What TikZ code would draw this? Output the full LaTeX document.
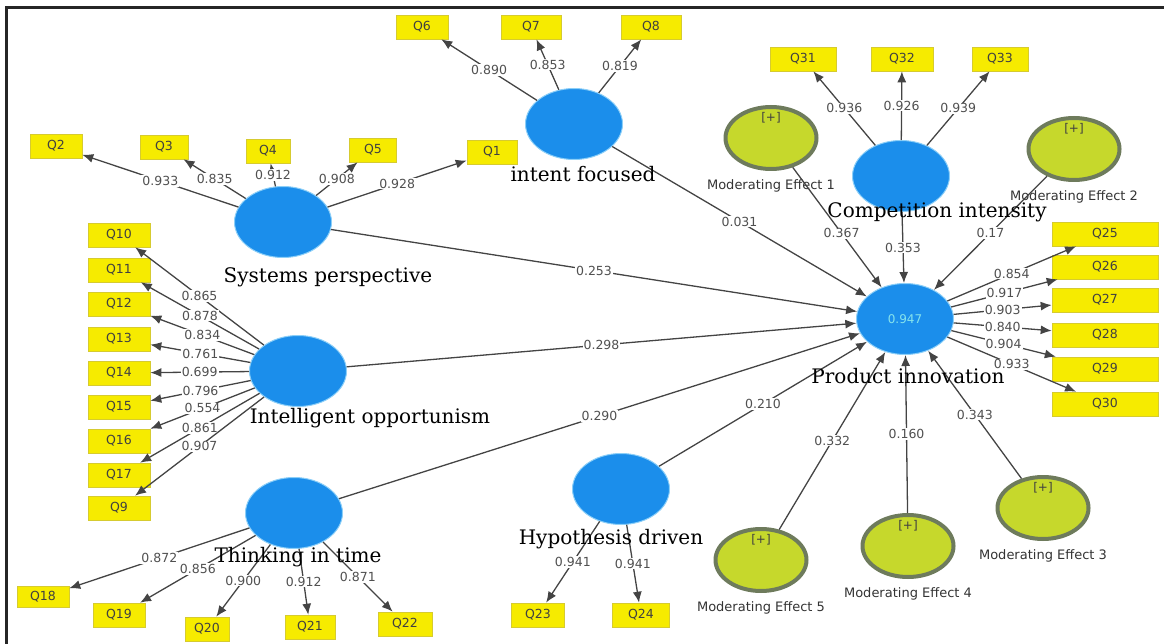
\documentclass[tikz,border=0pt]{standalone}
\usepackage{xcolor}
\usepackage{fontspec}
\usepackage{tikz}
\usetikzlibrary{shapes.geometric, arrows.meta}
\newfontfamily\pathfont{DejaVu Sans}
\newfontfamily\lvfont{DejaVu Serif}
\definecolor{lvblue}{HTML}{1B8EEB}
\definecolor{lvedge}{HTML}{8CCFF8}
\definecolor{modfill}{HTML}{C6D82C}
\definecolor{modedge}{HTML}{6E7B5C}
\definecolor{itemyellow}{HTML}{F6EB00}
\definecolor{itemedge}{HTML}{D6CB30}
\definecolor{linegray}{HTML}{444444}
\definecolor{coefgray}{HTML}{505050}
\definecolor{pitext}{HTML}{86E3EC}

\begin{document}
\begin{tikzpicture}[
    x=1pt, y=-1pt,
    latent/.style={ellipse, fill=lvblue, draw=lvedge, line width=1pt, minimum width=97pt, minimum height=71pt, inner sep=0pt},
    moderator/.style={ellipse, fill=modfill, draw=modedge, line width=4pt, minimum width=91pt, minimum height=62pt, inner sep=0pt,
        label={[plusmark, label distance=-18pt]90:{[+]}}},
    plusmark/.style={inner sep=0pt, font=\pathfont\fontsize{12}{14}\selectfont, text=black!75},
    modname/.style={label distance=5pt, font=\pathfont\fontsize{13}{15}\selectfont, text=black!80},
    lvname/.style={inner sep=0pt, font=\lvfont\fontsize{20}{22}\selectfont, text=black},
    item/.style={rectangle, fill=itemyellow, draw=itemedge, line width=0.6pt, minimum width=52pt, minimum height=24pt, inner sep=1pt,
        font=\pathfont\fontsize{12.5}{14}\selectfont, text=black!75},
    coef/.style={fill=white, inner sep=1pt, font=\pathfont\fontsize{12.5}{14}\selectfont, text=coefgray},
    arrow/.style={->, >={Latex[length=11pt, width=9pt]}, line width=1.3pt, draw=linegray}
]
    \useasboundingbox (0,0) rectangle (1164,644);
    \draw[line width=3pt, black!85] (6,644) -- (6,8) -- (1164,8);

    % Constructs
    \node[latent] (sp) at (283,222) {};
    \node[latent] (io) at (298,371) {};
    \node[latent] (tt) at (294,513) {};
    \node[latent] (intent) at (574,124) {};
    \node[latent] (ci) at (901,176) {};
    \node[latent, text=pitext, font=\pathfont\fontsize{12}{14}\selectfont] (pi) at (905,319) {0.947};
    \node[latent] (hd) at (621,489) {};

    % Moderating effects
    \node[moderator, label={[modname]below:Moderating Effect 1}] (me1) at (771,138) {};
    \node[moderator, label={[modname]below:Moderating Effect 2}] (me2) at (1074,149) {};
    \node[moderator, label={[modname]below:Moderating Effect 3}] (me3) at (1043,508) {};
    \node[moderator, label={[modname]below:Moderating Effect 4}] (me4) at (908,546) {};
    \node[moderator, label={[modname]below:Moderating Effect 5}] (me5) at (761,560) {};

    % Indicators
    \node[item] (q2) at (56,146) {Q2};
    \node[item, minimum width=48pt] (q3) at (164,147) {Q3};
    \node[item, minimum width=44pt] (q4) at (268,151) {Q4};
    \node[item, minimum width=47pt] (q5) at (373,150) {Q5};
    \node[item, minimum width=50pt] (q1) at (492,152) {Q1};
    \node[item] (q6) at (422,27) {Q6};
    \node[item, minimum width=60pt] (q7) at (531,27) {Q7};
    \node[item, minimum width=60pt] (q8) at (651,27) {Q8};
    \node[item, minimum width=66pt] (q31) at (803,59) {Q31};
    \node[item, minimum width=62pt] (q32) at (902,59) {Q32};
    \node[item, minimum width=56pt] (q33) at (1000,59) {Q33};
    \node[item, minimum width=62pt] (q10) at (119,235) {Q10};
    \node[item, minimum width=62pt] (q11) at (119,270) {Q11};
    \node[item, minimum width=62pt] (q12) at (119,304) {Q12};
    \node[item, minimum width=62pt] (q13) at (119,339) {Q13};
    \node[item, minimum width=62pt] (q14) at (119,373) {Q14};
    \node[item, minimum width=62pt] (q15) at (119,407) {Q15};
    \node[item, minimum width=62pt] (q16) at (119,441) {Q16};
    \node[item, minimum width=62pt] (q17) at (119,475) {Q17};
    \node[item, minimum width=62pt] (q9) at (119,508) {Q9};
    \node[item, minimum height=21pt] (q18) at (43,597) {Q18};
    \node[item] (q19) at (119,615) {Q19};
    \node[item, minimum width=44pt] (q20) at (207,629) {Q20};
    \node[item, minimum width=50pt] (q21) at (310,627) {Q21};
    \node[item, minimum width=54pt] (q22) at (405,624) {Q22};
    \node[item, minimum width=53pt] (q23) at (538,615) {Q23};
    \node[item, minimum width=57pt] (q24) at (641,615) {Q24};
    \node[item, minimum width=106pt] (q25) at (1105,234) {Q25};
    \node[item, minimum width=106pt] (q26) at (1105,267) {Q26};
    \node[item, minimum width=106pt] (q27) at (1105,300) {Q27};
    \node[item, minimum width=106pt] (q28) at (1105,335) {Q28};
    \node[item, minimum width=106pt] (q29) at (1105,369) {Q29};
    \node[item, minimum width=106pt] (q30) at (1105,404) {Q30};

    % Outer loadings
    \draw[arrow] (sp) -- node[coef] {0.933} (q2);
    \draw[arrow] (sp) -- node[coef] {0.835} (q3);
    \draw[arrow] (sp) -- node[coef] {0.912} (q4);
    \draw[arrow] (sp) -- node[coef] {0.908} (q5);
    \draw[arrow] (sp) -- node[coef] {0.928} (q1);
    \draw[arrow] (intent) -- node[coef] {0.890} (q6);
    \draw[arrow] (intent) -- node[coef] {0.853} (q7);
    \draw[arrow] (intent) -- node[coef] {0.819} (q8);
    \draw[arrow] (ci) -- node[coef] {0.936} (q31);
    \draw[arrow] (ci) -- node[coef] {0.926} (q32);
    \draw[arrow] (ci) -- node[coef] {0.939} (q33);
    \draw[arrow] (io) -- node[coef] {0.865} (q10);
    \draw[arrow] (io) -- node[coef] {0.878} (q11);
    \draw[arrow] (io) -- node[coef] {0.834} (q12);
    \draw[arrow] (io) -- node[coef] {0.761} (q13);
    \draw[arrow] (io) -- node[coef] {0.699} (q14);
    \draw[arrow] (io) -- node[coef] {0.796} (q15);
    \draw[arrow] (io) -- node[coef] {0.554} (q16);
    \draw[arrow] (io) -- node[coef] {0.861} (q17);
    \draw[arrow] (io) -- node[coef] {0.907} (q9);
    \draw[arrow] (tt) -- node[coef] {0.872} (q18);
    \draw[arrow] (tt) -- node[coef] {0.856} (q19);
    \draw[arrow] (tt) -- node[coef] {0.900} (q20);
    \draw[arrow] (tt) -- node[coef] {0.912} (q21);
    \draw[arrow] (tt) -- node[coef] {0.871} (q22);
    \draw[arrow] (hd) -- node[coef] {0.941} (q23);
    \draw[arrow] (hd) -- node[coef] {0.941} (q24);
    \draw[arrow] (pi) -- node[coef] {0.854} (q25);
    \draw[arrow] (pi) -- node[coef] {0.917} (q26);
    \draw[arrow] (pi) -- node[coef] {0.903} (q27);
    \draw[arrow] (pi) -- node[coef] {0.840} (q28);
    \draw[arrow] (pi) -- node[coef] {0.904} (q29);
    \draw[arrow] (pi) -- node[coef] {0.933} (q30);

    % Path coefficients
    \draw[arrow] (sp) -- node[coef] {0.253} (pi);
    \draw[arrow] (io) -- node[coef] {0.298} (pi);
    \draw[arrow] (tt) -- node[coef] {0.290} (pi);
    \draw[arrow] (intent) -- node[coef] {0.031} (pi);
    \draw[arrow] (ci) -- node[coef] {0.353} (pi);
    \draw[arrow] (hd) -- node[coef] {0.210} (pi);
    \draw[arrow] (me1) -- node[coef, pos=0.55] {0.367} (pi);
    \draw[arrow] (me2) -- node[coef] {0.17} (pi);
    \draw[arrow] (me3) -- node[coef] {0.343} (pi);
    \draw[arrow] (me4) -- node[coef] {0.160} (pi);
    \draw[arrow] (me5) -- node[coef] {0.332} (pi);

    % Construct names
    \node[lvname] (spname) at (328,277) {Systems perspective};
    \node[lvname] (ioname) at (370,418) {Intelligent opportunism};
    \node[lvname] (ttname) at (298,557) {Thinking in time};
    \node[lvname] (intentname) at (583,174) {intent focused};
    \node[lvname] (ciname) at (937,212) {Competition intensity};
    \node[lvname] (piname) at (908,376) {Product innovation};
    \node[lvname] (hdname) at (611,539) {Hypothesis driven};
\end{tikzpicture}
\end{document}
